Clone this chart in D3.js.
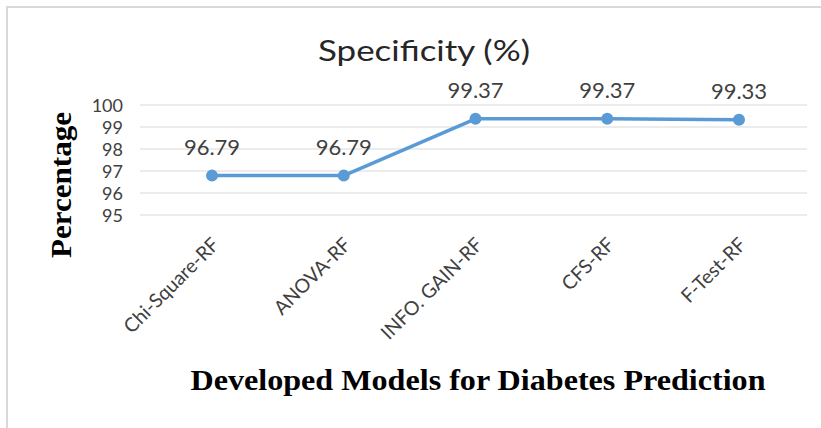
<!DOCTYPE html>
<html>
<head>
<meta charset="utf-8">
<script src="https://cdn.jsdelivr.net/npm/d3@7"></script>
<style>
  body { margin: 0; background: #fff; }
  svg { display: block; }
</style>
</head>
<body>
<svg id="chart" width="821" height="428"></svg>
<script>
// Specificity of each random-forest model
const models = ["Chi-Square-RF", "ANOVA-RF", "INFO. GAIN-RF", "CFS-RF", "F-Test-RF"];
const specificity = [96.79, 96.79, 99.37, 99.37, 99.33];
const yTicks = [95, 96, 97, 98, 99, 100];

const svg = d3.select("#chart");
const sansFont = "Lato, 'Open Sans', sans-serif";
const serifFont = "'Liberation Serif', 'DejaVu Serif', serif";

// chart frame
svg.append("rect")
  .attr("x", 7).attr("y", 7).attr("width", 840).attr("height", 440)
  .attr("fill", "#fff").attr("stroke", "#d9d9d9").attr("stroke-width", 2);

const x = d3.scalePoint().domain(models).range([212, 739]);
const y = d3.scaleLinear().domain([95, 100]).range([215, 105]);

// horizontal gridlines
svg.append("g").selectAll("line").data(yTicks).join("line")
  .attr("x1", 140).attr("x2", 807)
  .attr("y1", d => y(d)).attr("y2", d => y(d))
  .attr("stroke", "#d9d9d9").attr("stroke-width", 1);

// y axis tick labels
const yAxis = d3.axisLeft(y).tickValues(yTicks).tickFormat(d3.format("d"))
  .tickSize(0).tickPadding(0);
const gy = svg.append("g").attr("transform", "translate(123,0)").call(yAxis);
gy.select(".domain").remove();
gy.selectAll("text")
  .attr("font-family", sansFont).attr("font-size", 18).attr("fill", "#404040")
  .attr("dy", "0.35em");

// x axis category labels, rotated
const xAxis = d3.axisBottom(x).tickSize(0).tickPadding(0);
const gx = svg.append("g").attr("transform", "translate(0,241)").call(xAxis);
gx.select(".domain").remove();
gx.selectAll("text")
  .attr("font-family", sansFont).attr("font-size", 19.5).attr("fill", "#404040")
  .attr("text-anchor", "end")
  .attr("dy", "0.35em")
  .attr("transform", "translate(3,0) rotate(-45)");

// series line and markers
const line = d3.line().x((d, i) => x(models[i])).y(d => y(d));
svg.append("path").datum(specificity)
  .attr("d", line).attr("fill", "none")
  .attr("stroke", "#5b9bd5").attr("stroke-width", 3.5).attr("stroke-linejoin", "round");

svg.append("g").selectAll("circle").data(specificity).join("circle")
  .attr("cx", (d, i) => x(models[i])).attr("cy", d => y(d)).attr("r", 6)
  .attr("fill", "#5b9bd5");

// value labels
svg.append("g").selectAll("text").data(specificity).join("text")
  .attr("x", (d, i) => x(models[i])).attr("y", d => y(d) - 21)
  .attr("text-anchor", "middle")
  .attr("font-family", sansFont).attr("font-size", 22).attr("fill", "#404040")
  .text(d => d.toFixed(2));

// chart title
svg.append("text")
  .attr("x", 424).attr("y", 61).attr("text-anchor", "middle")
  .attr("font-family", sansFont).attr("font-size", 29).attr("fill", "#262626")
  .attr("textLength", 212).attr("lengthAdjust", "spacingAndGlyphs")
  .text("Specificity (%)");

// axis titles
svg.append("text")
  .attr("transform", "translate(71,185) rotate(-90)")
  .attr("text-anchor", "middle")
  .attr("font-family", serifFont).attr("font-weight", "bold").attr("font-size", 29)
  .attr("textLength", 146).attr("lengthAdjust", "spacingAndGlyphs")
  .attr("fill", "#000")
  .text("Percentage");

svg.append("text")
  .attr("x", 478).attr("y", 390).attr("text-anchor", "middle")
  .attr("font-family", serifFont).attr("font-weight", "bold").attr("font-size", 29)
  .attr("textLength", 575).attr("lengthAdjust", "spacingAndGlyphs")
  .attr("fill", "#000")
  .text("Developed Models for Diabetes Prediction");
</script>
</body>
</html>
